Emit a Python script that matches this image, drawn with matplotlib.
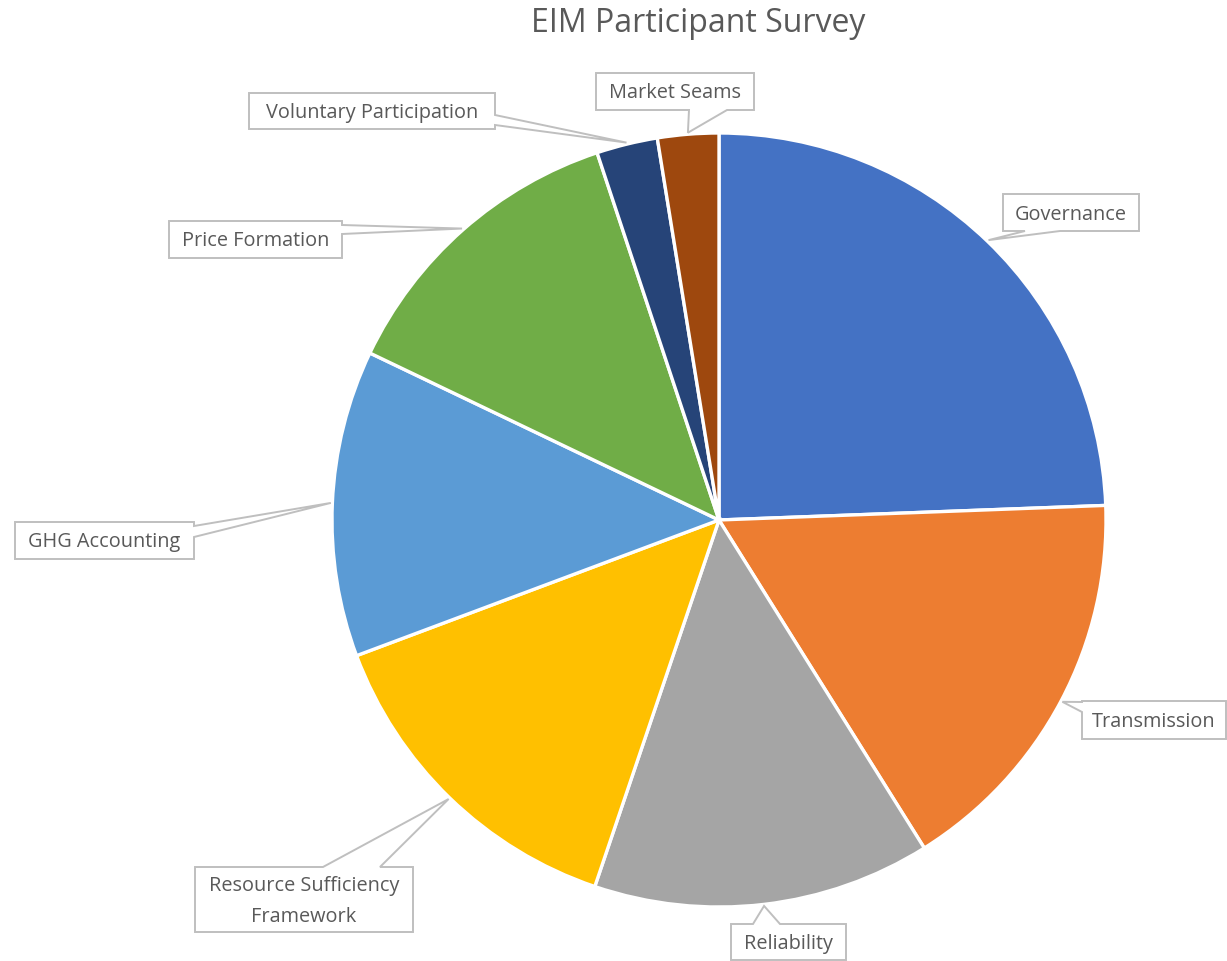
import numpy as np
import matplotlib
matplotlib.use("Agg")
import matplotlib.pyplot as plt
from matplotlib.patches import Polygon

# ---- data ----
categories = ["Governance", "Transmission", "Reliability",
              "Resource Sufficiency\nFramework", "GHG Accounting",
              "Price Formation", "Voluntary Participation", "Market Seams"]
shares = [24.4, 16.7, 14.1, 14.1, 12.8, 12.8, 2.55, 2.55]
colors = ["#4472C4", "#ED7D31", "#A5A5A5", "#FFC000", "#5B9BD5",
          "#70AD47", "#264478", "#9E480E"]
title = "EIM Participant Survey"

# ---- layout (pixel coordinates, y measured from top) ----
W, H = 1227, 962
CX, CY, R = 719, 521, 387
# label boxes: (x0, y0, x1, y1), pointer side, notch start, notch end
boxes = [
    ((1003, 195, 1139, 232), "bottom", 1025, 1060),
    ((1082, 702, 1226, 740), "left", 703, 713),
    ((731, 925, 846, 961), "top", 753, 780),
    ((195, 868, 413, 933), "top", 323, 380),
    ((15, 523, 194, 560), "right", 527, 538),
    ((169, 222, 342, 259), "right", 226, 235),
    ((249, 94, 495, 130), "right", 116, 126),
    ((596, 74, 754, 111), "bottom", 689, 727),
]

plt.rcParams['font.family'] = ['Open Sans', 'DejaVu Sans']
fig = plt.figure(figsize=(W / 100, H / 100), dpi=100)
ax = fig.add_axes([0, 0, 1, 1])

def P(x, y):
    return (x, H - y)

wedges, _ = ax.pie(shares, colors=colors, startangle=90, counterclock=False,
                   center=P(CX, CY), radius=R,
                   wedgeprops=dict(edgecolor="white", linewidth=2.4))
ax.set_xlim(0, W)
ax.set_ylim(0, H)
ax.set_aspect("equal")
ax.axis("off")

txtcol = "#595959"
for w, lab, (bx, side, a, b) in zip(wedges, categories, boxes):
    mid = np.deg2rad((w.theta1 + w.theta2) / 2)
    tx = CX + 1.004 * R * np.cos(mid)
    ty = CY - 1.004 * R * np.sin(mid)
    x0, y0, x1, y1 = bx
    pts = [(x0, y0)]
    if side == "top":
        pts += [(a, y0), (tx, ty), (b, y0)]
    pts += [(x1, y0)]
    if side == "right":
        pts += [(x1, a), (tx, ty), (x1, b)]
    pts += [(x1, y1)]
    if side == "bottom":
        pts += [(b, y1), (tx, ty), (a, y1)]
    pts += [(x0, y1)]
    if side == "left":
        pts += [(x0, b), (tx, ty), (x0, a)]
    poly = Polygon([P(x, y) for x, y in pts], closed=True, facecolor="white",
                   edgecolor="#BFBFBF", linewidth=1.4, zorder=5)
    ax.add_patch(poly)
    ax.text(*P((x0 + x1) / 2, (y0 + y1) / 2 + 1), lab, ha="center", va="center",
            fontsize=14.3, color=txtcol, zorder=6, linespacing=1.75)

ax.text(*P(W / 2 + 85, 23), title, ha="center", va="center", fontsize=23,
        color=txtcol)

fig.savefig("out.png", dpi=100)
